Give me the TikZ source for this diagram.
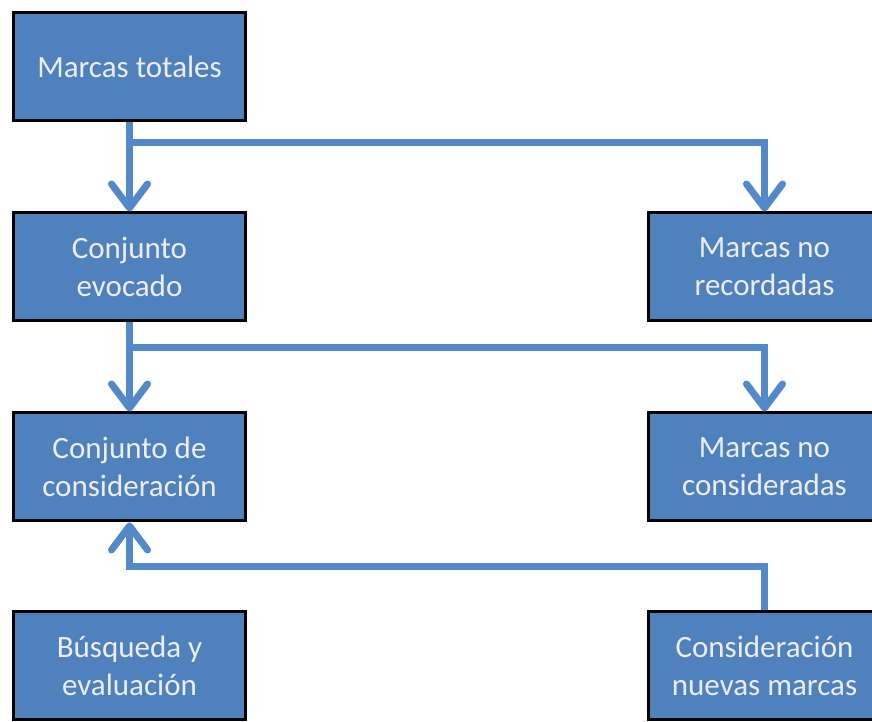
\documentclass[tikz,border=0pt]{standalone}
\usepackage{fontspec}
\setmainfont{Carlito}
\usetikzlibrary{arrows.meta}
\definecolor{boxblue}{RGB}{79,129,189}
\definecolor{lineblue}{RGB}{84,137,201}

\begin{document}
\begin{tikzpicture}[x=1pt,y=1pt,
  box/.style={draw=black,line width=3pt,fill=boxblue,text=white!93!black,
    minimum width=232pt,minimum height=108pt,inner sep=0pt,align=center,
    font=\fontsize{31}{38}\selectfont},
  flow/.style={draw=lineblue,line width=7pt,
    -{Straight Barb[length=24pt,width=36pt,line width=7pt,round]}}]
\useasboundingbox (0,0) rectangle (872,722);
\node[box] at (129.5,655) (tot) {Marcas totales};
\node[box] at (129.5,455) (evo) {Conjunto\\evocado};
\node[box] at (764.5,455) (nrec) {Marcas no\\recordadas};
\node[box] at (129.5,255) (cons) {Conjunto de\\consideración};
\node[box] at (764.5,255) (ncons) {Marcas no\\consideradas};
\node[box] at (129.5,56) (bus) {Búsqueda y\\evaluación};
\node[box] at (764.5,56) (nue) {Consideración\\nuevas marcas};
\coordinate (b1) at (129.5,579);
\coordinate (b2) at (129.5,374);
\coordinate (b3) at (129.5,155);
\draw[flow] (tot.south) -- (evo.north);
\draw[flow] (b1) -| (nrec.north);
\draw[flow] (evo.south) -- (cons.north);
\draw[flow] (b2) -| (ncons.north);
\draw[flow] (nue.north) |- (b3) -- (cons.south);
\end{tikzpicture}
\end{document}
